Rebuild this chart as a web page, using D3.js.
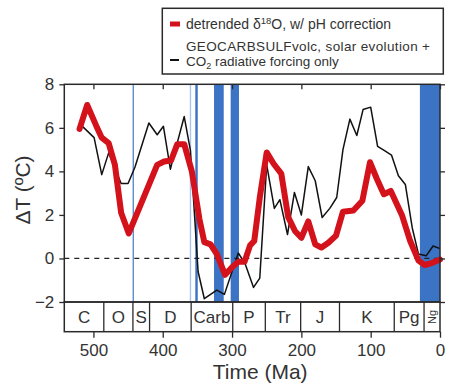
<!DOCTYPE html>
<html>
<head>
<meta charset="utf-8">
<script src="https://cdn.jsdelivr.net/npm/d3@7/dist/d3.min.js"></script>
<style>
  html, body { margin: 0; padding: 0; background: #fff; }
  svg { display: block; font-family: "Liberation Sans", Arial, sans-serif; }
</style>
</head>
<body>
<svg id="chart" width="450" height="386"></svg>
<script>
// ---- data (Ma, °C) ----
const redAge = [520, 509, 496, 488, 478, 469, 460, 449, 408, 398, 388, 379, 369, 358, 347, 340, 331, 322, 310, 300, 291, 282, 274, 268, 260, 250, 240, 229, 219, 209, 200, 190, 180, 171, 161, 150, 140, 125, 112, 101, 91, 81, 71, 55, 43, 31, 22, 11, 0];
const redVal = [5.95, 7.05, 6.1, 5.55, 5.3, 4.3, 2.1, 1.15, 4.3, 4.45, 4.5, 5.25, 5.25, 4.0, 1.8, 0.75, 0.65, 0.2, -0.75, -0.4, -0.15, -0.15, 0.6, 0.8, 2.8, 4.87, 4.35, 3.9, 1.9, 1.25, 0.95, 1.7, 0.65, 0.5, 0.72, 1.05, 2.15, 2.2, 2.65, 4.42, 3.65, 2.95, 3.1, 2.0, 0.8, -0.1, -0.3, -0.2, -0.05];

const blackAge = [517, 499, 488, 478, 460, 450, 440, 420, 408, 399, 389, 385, 369, 360, 349, 340, 322, 311, 291, 281, 269, 260, 250, 239, 231, 220, 210, 200, 190, 180, 170, 159, 149, 140, 130, 120, 111, 100, 90, 80, 70, 60, 50, 40, 31, 20, 10, 0];
const blackVal = [6.1, 5.55, 3.85, 4.85, 3.44, 3.44, 4.2, 6.22, 5.68, 6.07, 4.1, 4.6, 6.52, 4.95, -0.6, -1.85, -1.45, -1.65, 0.25, -0.25, -1.33, -0.9, 4.3, 2.3, 2.7, 1.1, 3.03, 2.0, 4.22, 3.57, 1.88, 2.3, 2.8, 5.0, 6.4, 5.65, 6.84, 6.95, 5.15, 4.95, 4.75, 3.8, 3.4, 1.4, 0.2, 0.12, 0.57, 0.45];

// glaciation intervals [older, younger, shade]
const glacStart = [443.5, 361, 353, 326, 302, 29];
const glacEnd   = [441.5, 359, 349.5, 312, 290, 0];
const glacShade = ["mid", "light", "dark", "dark", "dark", "dark"];

// geologic periods
const periodNames = ["C", "O", "S", "D", "Carb", "P", "Tr", "J", "K", "Pg", "Ng"];
const periodStart = [542, 485, 443, 419, 359, 299, 252, 201, 145, 66, 23];
const periodEnd   = [485, 443, 419, 359, 299, 252, 201, 145, 66, 23, 0];

const xTicks = [500, 400, 300, 200, 100, 0];
const yTicks = [-2, 0, 2, 4, 6, 8];

// ---- layout ----
const svg = d3.select("#chart");
const L = 64.3, R = 440, T = 84.3, B = 302, TSB = 331.7;
const x = d3.scaleLinear().domain([542, 0]).range([L, R]);
const y = d3.scaleLinear().domain([-2, 8]).range([B, T]);
const ink = "#2a2a2a";
const txt = "#333";
const shadeColor = { dark: "#3b73c5", mid: "#5b8bd2", light: "#a9c3ea" };

// glaciation bars
svg.append("g").selectAll("rect").data(glacStart.map((s, i) => i)).join("rect")
  .attr("x", i => x(glacStart[i]))
  .attr("width", i => x(glacEnd[i]) - x(glacStart[i]))
  .attr("y", y(8)).attr("height", y(-2) - y(8))
  .attr("fill", i => shadeColor[glacShade[i]]);

// zero line
svg.append("line").attr("x1", L).attr("x2", R).attr("y1", y(0)).attr("y2", y(0))
  .attr("stroke", "#222").attr("stroke-width", 1.3).attr("stroke-dasharray", "5,5");

const line = d3.line().x(d => x(d[0])).y(d => y(d[1]));
svg.append("path").datum(blackAge.map((a, i) => [a, blackVal[i]]))
  .attr("d", line).attr("fill", "none").attr("stroke", "#111").attr("stroke-width", 1.5)
  .attr("stroke-linejoin", "round");
svg.append("path").datum(redAge.map((a, i) => [a, redVal[i]]))
  .attr("d", line).attr("fill", "none").attr("stroke", "#d3121c").attr("stroke-width", 6)
  .attr("stroke-linejoin", "round").attr("stroke-linecap", "round");

// frame
svg.append("rect").attr("x", L).attr("y", T).attr("width", R - L).attr("height", B - T)
  .attr("fill", "none").attr("stroke", ink).attr("stroke-width", 1.5);

// axes
const yAxisL = svg.append("g").attr("transform", `translate(${L},0)`)
  .call(d3.axisLeft(y).tickValues(yTicks).tickSize(5).tickPadding(5).tickFormat(d3.format("d")));
const yAxisR = svg.append("g").attr("transform", `translate(${R},0)`)
  .call(d3.axisLeft(y).tickValues(yTicks).tickSize(-5).tickFormat(""));
const xAxisT = svg.append("g").attr("transform", `translate(0,${T})`)
  .call(d3.axisTop(x).tickValues(xTicks).tickSize(-5).tickFormat(""));

// timescale box
const ts = svg.append("g");
ts.append("rect").attr("x", L).attr("y", B).attr("width", R - L).attr("height", TSB - B)
  .attr("fill", "none").attr("stroke", ink).attr("stroke-width", 1.5);
ts.selectAll("line.b").data(periodStart.slice(1)).join("line")
  .attr("x1", d => x(d)).attr("x2", d => x(d)).attr("y1", B).attr("y2", TSB)
  .attr("stroke", ink).attr("stroke-width", 1.3);
periodNames.forEach((n, i) => {
  const cx = (x(periodStart[i]) + x(periodEnd[i])) / 2;
  if (n === "Ng") {
    ts.append("text").attr("transform", `translate(${cx + 4},${(B + TSB) / 2}) rotate(-90)`)
      .attr("text-anchor", "middle").attr("font-size", 11).attr("fill", txt).text(n);
  } else {
    ts.append("text").attr("x", cx).attr("y", 323).attr("text-anchor", "middle")
      .attr("font-size", 17).attr("fill", txt).text(n);
  }
});

const xAxisB = svg.append("g").attr("transform", `translate(0,${TSB})`)
  .call(d3.axisBottom(x).tickValues(xTicks).tickSize(6).tickPadding(6).tickFormat(d3.format("d")));

[yAxisL, yAxisR, xAxisT, xAxisB].forEach(g => {
  g.select(".domain").remove();
  g.selectAll(".tick line").attr("stroke", ink).attr("stroke-width", 1.3);
  g.selectAll(".tick text").attr("font-size", 17).attr("fill", txt)
    .attr("font-family", "'Liberation Sans', Arial, sans-serif");
});
xAxisB.selectAll(".tick text").attr("dy", null).attr("y", 24);

// axis titles
svg.append("text").attr("x", (L + R) / 2 + 8).attr("y", 379).attr("text-anchor", "middle")
  .attr("font-size", 21).attr("fill", txt).text("Time (Ma)");
svg.append("text").attr("transform", "translate(30,190) rotate(-90)").attr("text-anchor", "middle")
  .attr("font-size", 21).attr("fill", txt).text("ΔT (ºC)");

// legend
const lg = svg.append("g");
lg.append("rect").attr("x", 162.3).attr("y", 8.3).attr("width", 281).attr("height", 65.7)
  .attr("fill", "#fff").attr("stroke", ink).attr("stroke-width", 1.5);
lg.append("rect").attr("x", 170).attr("y", 21.5).attr("width", 10).attr("height", 5).attr("fill", "#d3121c");
lg.append("line").attr("x1", 170).attr("x2", 179).attr("y1", 60).attr("y2", 60)
  .attr("stroke", "#111").attr("stroke-width", 2);
const t1 = lg.append("text").attr("x", 186).attr("y", 28.5).attr("font-size", 14).attr("fill", txt);
t1.append("tspan").text("detrended δ");
t1.append("tspan").attr("font-size", 9.5).attr("dy", -5).text("18");
t1.append("tspan").attr("dy", 5).text("O, w/ pH correction");
lg.append("text").attr("x", 186).attr("y", 50.5).attr("font-size", 13.5).attr("fill", txt)
  .attr("textLength", 244).attr("lengthAdjust", "spacing")
  .text("GEOCARBSULFvolc, solar evolution +");
const t3 = lg.append("text").attr("x", 186).attr("y", 65.5).attr("font-size", 13.5).attr("fill", txt);
t3.append("tspan").text("CO");
t3.append("tspan").attr("font-size", 9).attr("dy", 3).text("2");
t3.append("tspan").attr("dy", -3).text(" radiative forcing only");
</script>
</body>
</html>
